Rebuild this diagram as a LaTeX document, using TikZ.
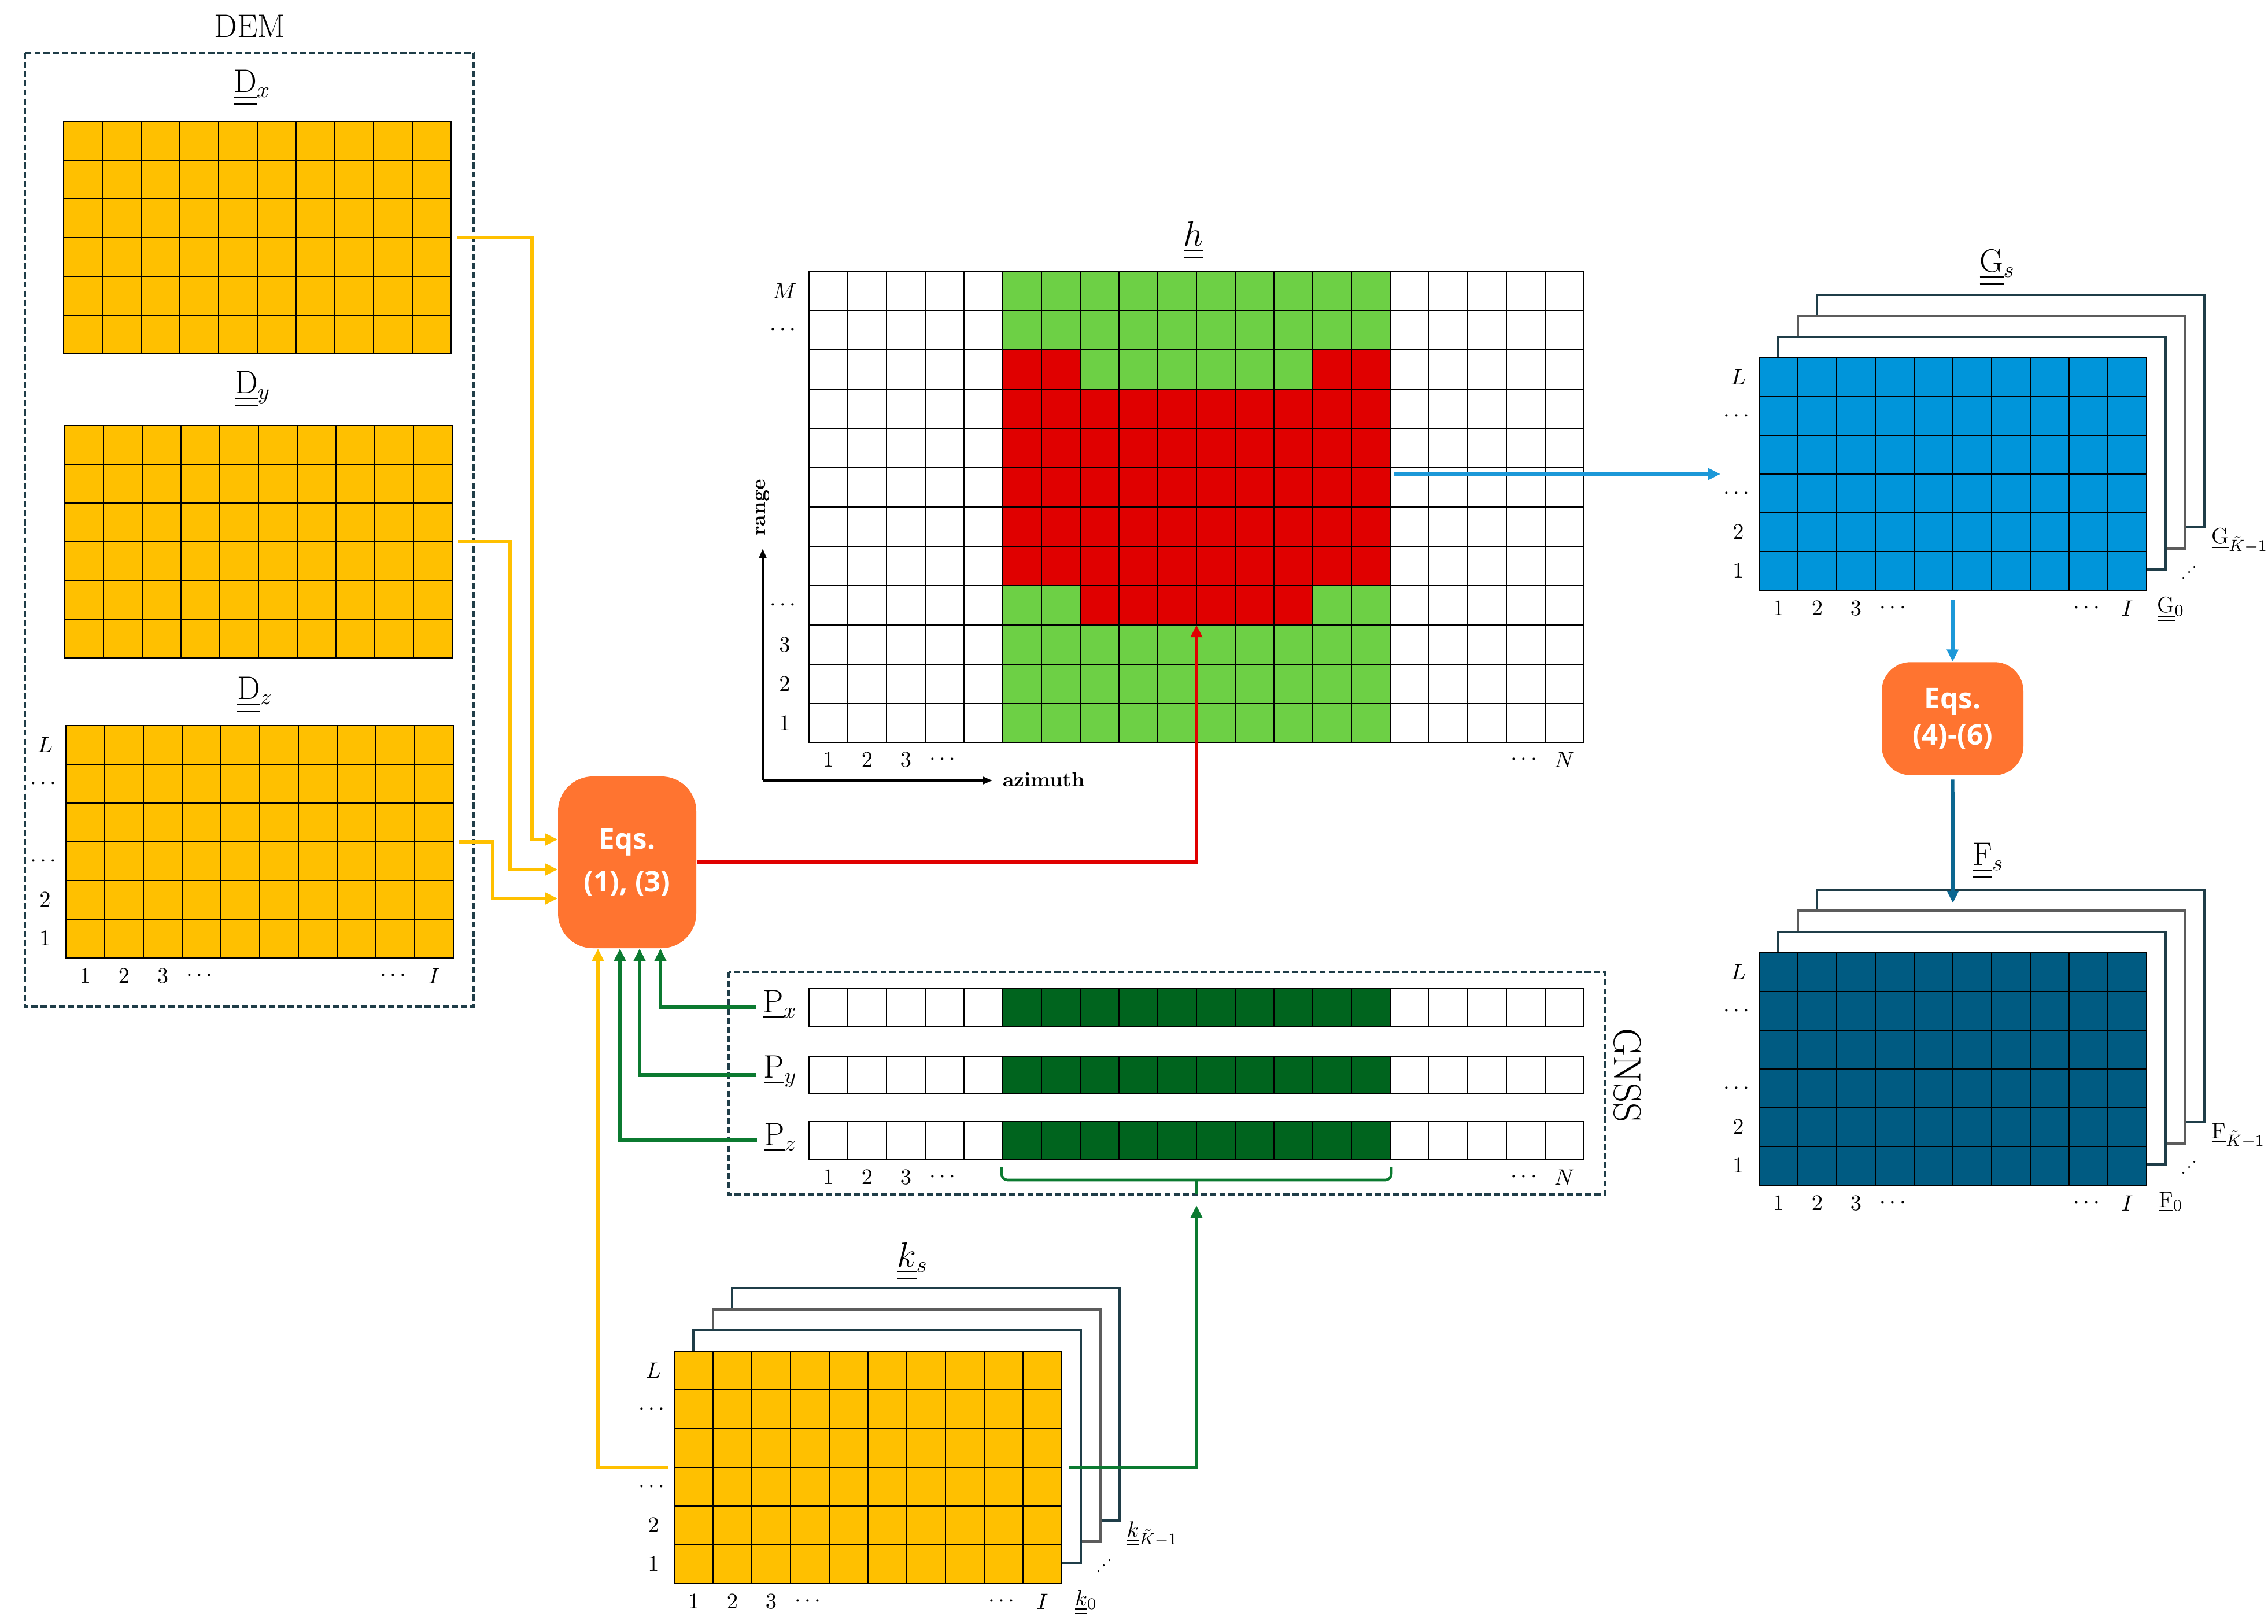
\documentclass[tikz,border=0pt]{standalone}
\usepackage{fontspec}
\usepackage{amsmath}
\usetikzlibrary{arrows.meta, positioning, calc, fit}
\newfontfamily\eqfont{Open Sans}

\definecolor{demyellow}{HTML}{FFC000}
\definecolor{hgreen}{HTML}{6DD045}
\definecolor{hred}{HTML}{E00000}
\definecolor{gnssgreen}{HTML}{00641E}
\definecolor{gblue}{HTML}{0095DA}
\definecolor{fteal}{HTML}{005B82}
\definecolor{eqorange}{HTML}{FF7430}
\definecolor{linkgreen}{HTML}{0B7A30}
\definecolor{linkblue}{HTML}{1C98D8}
\definecolor{linkteal}{HTML}{0B6690}
\definecolor{frame}{HTML}{1F3D48}
\definecolor{layergray}{HTML}{5C5C5C}

\newcommand{\mtx}[1]{\smash[b]{\underline{\underline{#1}}}}
\newcommand{\vct}[1]{\smash[b]{\underline{#1}}}
\def\cellw{0.67}
\def\cellh{0.67}

% grid of cells: name, x0, y0, columns, rows, fill, patches
\newcommand{\cellgrid}[7]{%
  \fill[#6] (#2,#3) rectangle ++({#4*\cellw},{#5*\cellh});
  #7
  \foreach \ii in {0,...,#4} \draw[gridline] ({#2+\ii*\cellw},#3) -- ++(0,{#5*\cellh});
  \foreach \jj in {0,...,#5} \draw[gridline] (#2,{#3+\jj*\cellh}) -- ++({#4*\cellw},0);
  \node[inner sep=0pt, outer sep=0pt, fit={(#2,#3) ({#2+#4*\cellw},{#3+#5*\cellh})}] (#1) {};
}
% sheets behind a 10x6 grid: name, x0, y0, symbol
\newcommand{\layers}[4]{%
  \foreach \kk/\clr in {3/frame,2/layergray,1/frame}
    \filldraw[fill=white, draw=\clr, line width=1.2pt] ({#2+\kk*0.333},{#3-\kk*0.363}) rectangle ++(6.70,4.02);
  \node[ticklab] (#1first) at ({#2+7.12},{#3+4.30}) {$#4_0$};
  \node[ticklab, anchor=west] (#1last) at ({#2+7.82},{#3+3.16}) {$#4_{\tilde{K}-1}$};
  \node[ticklab, rotate=45, scale=0.8] (#1dots) at ({#2+7.46},{#3+3.70}) {$\cdots$};
}
% row and column numbers of a 10x6 grid: name, x0, y0
\newcommand{\ticks}[3]{%
  \foreach \rr/\lab in {1/L,2/\cdots,4/\cdots,5/2,6/1}
    \node[ticklab] (#1r\rr) at ({#2-0.36},{#3+(\rr-0.5)*\cellh}) {$\lab$};
  \foreach \cc/\lab in {1/1,2/2,3/3,4/\cdots,9/\cdots,10/I}
    \node[ticklab] (#1c\cc) at ({#2+(\cc-0.5)*\cellw},{#3+6*\cellh+0.31}) {$\lab$};
}

\begin{document}
\begin{tikzpicture}[x=1cm, y=-1cm,
  gridline/.style={draw=black, line width=0.8pt, line cap=rect},
  dashbox/.style={draw=frame, line width=0.9pt, dash pattern=on 3pt off 1.5pt},
  link/.style={line width=1.8pt, -{Triangle[length=6pt, width=5.5pt]}},
  axis/.style={line width=0.9pt, -{Triangle[length=4.5pt, width=3.5pt]}},
  eqbox/.style={fill=eqorange, text=white, align=center, inner sep=0pt, font=\eqfont\bfseries\fontsize{14}{21}\selectfont},
  matlab/.style={inner sep=0pt, font=\fontsize{16}{19}\selectfont},
  ticklab/.style={inner sep=0pt, font=\fontsize{11}{13}\selectfont},
  axlab/.style={inner sep=0pt, font=\bfseries\fontsize{10}{12}\selectfont}]
\useasboundingbox (0,0) rectangle (39.22,28.09);

% DEM
\node[inner sep=0pt, font=\fontsize{16}{19}\selectfont] (demlab) at (4.32,0.45) {DEM};
\draw[dashbox] (0.43,0.915) rectangle (8.19,17.41);
\node[matlab] (Dxlab) at (4.36,1.45) {$\mtx{\mathrm{D}}_x$};
\cellgrid{Dx}{1.10}{2.10}{10}{6}{demyellow}{}
\node[matlab] (Dylab) at (4.37,6.70) {$\mtx{\mathrm{D}}_y$};
\cellgrid{Dy}{1.12}{7.36}{10}{6}{demyellow}{}
\node[matlab] (Dzlab) at (4.41,11.95) {$\mtx{\mathrm{D}}_z$};
\cellgrid{Dz}{1.14}{12.55}{10}{6}{demyellow}{}
\ticks{Dz}{1.14}{12.55}

% h
\node[matlab] (hlab) at (20.64,4.04) {$\mtx{h}$};
\def\cellh{0.68}
\cellgrid{hgrid}{13.99}{4.69}{20}{12}{white}{
  \fill[hgreen] (17.34,4.69) rectangle (24.04,12.85);
  \fill[hred] (17.34,6.05) rectangle (18.68,6.73);
  \fill[hred] (22.70,6.05) rectangle (24.04,6.73);
  \fill[hred] (17.34,6.73) rectangle (24.04,10.13);
  \fill[hred] (18.68,10.13) rectangle (22.70,10.81);
}
\foreach \rr/\lab in {1/M,2/\cdots,9/\cdots,10/3,11/2,12/1}
  \node[ticklab] (hr\rr) at (13.57,{4.69+(\rr-0.5)*\cellh}) {$\lab$};
\foreach \cc/\lab in {1/1,2/2,3/3,4/\cdots,19/\cdots,20/N}
  \node[ticklab] (hc\cc) at ({13.99+(\cc-0.5)*\cellw},13.14) {$\lab$};
\coordinate (axo) at (13.19,13.50);
\coordinate (axy) at (13.19,9.49);
\coordinate (axx) at (17.16,13.50);
\draw[axis] (axo) -- (axy);
\draw[axis] (axo) -- (axx);
\node[axlab, rotate=90] (rangelab) at (13.19,8.78) {range};
\node[axlab] (azlab) at (18.05,13.48) {azimuth};

% GNSS
\draw[dashbox] (12.60,16.81) rectangle (27.75,20.66);
\node[inner sep=0pt, rotate=-90, font=\fontsize{19}{22}\selectfont] (gnsslab) at (28.14,18.60) {GNSS};
\def\cellh{0.65}
\cellgrid{Pxbar}{13.99}{17.10}{20}{1}{white}{\fill[gnssgreen] (17.34,17.10) rectangle ++(6.70,0.65);}
\cellgrid{Pybar}{13.99}{18.27}{20}{1}{white}{\fill[gnssgreen] (17.34,18.27) rectangle ++(6.70,0.65);}
\cellgrid{Pzbar}{13.99}{19.40}{20}{1}{white}{\fill[gnssgreen] (17.34,19.40) rectangle ++(6.70,0.65);}
\def\cellh{0.67}
\node[matlab, anchor=east] (Pxl) at ([xshift=-2mm, yshift=0.6mm]Pxbar.west) {$\vct{\mathrm{P}}_x$};
\node[matlab, anchor=east] (Pyl) at ([xshift=-2mm, yshift=0.6mm]Pybar.west) {$\vct{\mathrm{P}}_y$};
\node[matlab, anchor=east] (Pzl) at ([xshift=-2mm, yshift=0.6mm]Pzbar.west) {$\vct{\mathrm{P}}_z$};
\foreach \cc/\lab in {1/1,2/2,3/3,4/\cdots,19/\cdots,20/N}
  \node[ticklab] (pc\cc) at ({13.99+(\cc-0.5)*\cellw},20.36) {$\lab$};
\draw[linkgreen, line width=1.3pt, rounded corners=3pt] (17.32,20.18) -- (17.32,20.41) -- (24.06,20.41) -- (24.06,20.18);
\draw[linkgreen, line width=1.3pt] (20.69,20.41) -- (20.69,20.66);

% k
\node[matlab] (kslab) at (15.78,21.75) {$\mtx{k}_s$};
\layers{ks}{11.66}{23.37}{\mtx{k}}
\cellgrid{ks}{11.66}{23.37}{10}{6}{demyellow}{}
\ticks{ks}{11.66}{23.37}

% G
\node[matlab] (Gslab) at (34.54,4.55) {$\mtx{\mathrm{G}}_s$};
\layers{Gs}{30.42}{6.19}{\mtx{\mathrm{G}}}
\cellgrid{Gs}{30.42}{6.19}{10}{6}{gblue}{}
\ticks{Gs}{30.42}{6.19}

% F
\node[matlab] (Fslab) at (34.38,14.82) {$\mtx{\mathrm{F}}_s$};
\layers{Fs}{30.42}{16.48}{\mtx{\mathrm{F}}}
\cellgrid{Fs}{30.42}{16.48}{10}{6}{fteal}{}
\ticks{Fs}{30.42}{16.48}

% equations
\node[eqbox, minimum width=2.39cm, minimum height=2.97cm, rounded corners=0.6cm] (eqA) at (10.845,14.915) {Eqs.\\(1), (3)};
\node[eqbox, minimum width=2.45cm, minimum height=1.955cm, rounded corners=0.5cm, font=\eqfont\bfseries\fontsize{14}{18}\selectfont] (eqB) at (33.765,12.43) {Eqs.\\(4)-(6)};

% connectors
\draw[link, demyellow] ([xshift=1mm]Dx.east) -| ([xshift=-4.4mm, yshift=3.95mm]eqA.west) -- ([yshift=3.95mm]eqA.west);
\draw[link, demyellow] ([xshift=1mm]Dy.east) -| ([xshift=-8.2mm, yshift=-1.25mm]eqA.west) -- ([yshift=-1.25mm]eqA.west);
\draw[link, demyellow] ([xshift=1mm]Dz.east) -| ([xshift=-11.2mm, yshift=-6.25mm]eqA.west) -- ([yshift=-6.25mm]eqA.west);
\draw[link, demyellow] ([xshift=-1mm]ks.west) -| ([xshift=-5.05mm]eqA.south);
\draw[link, linkgreen] ($(Pxl.west |- Pxbar.west)+(-0.12,0)$) -| ([xshift=5.75mm]eqA.south);
\draw[link, linkgreen] ($(Pyl.west |- Pybar.west)+(-0.12,0)$) -| ([xshift=2.15mm]eqA.south);
\draw[link, linkgreen] ($(Pzl.west |- Pzbar.west)+(-0.12,0)$) -| ([xshift=-1.25mm]eqA.south);
\coordinate (hin) at (20.69,10.81);
\draw[link, hred] (eqA.east) -| (hin);
\coordinate (hout) at (24.10,8.20);
\draw[link, linkblue] (hout) -- ([xshift=-6.7mm]Gs.west);
\draw[link, linkblue] ([yshift=-1.7mm]Gs.south) -- (eqB.north);
\draw[link, linkteal] ([yshift=-0.7mm]eqB.south) -- ([yshift=8.6mm]Fs.north);
\coordinate (brace) at (20.69,20.85);
\draw[link, linkgreen] ([xshift=1.3mm]ks.east) -| (brace);
\end{tikzpicture}
\end{document}
